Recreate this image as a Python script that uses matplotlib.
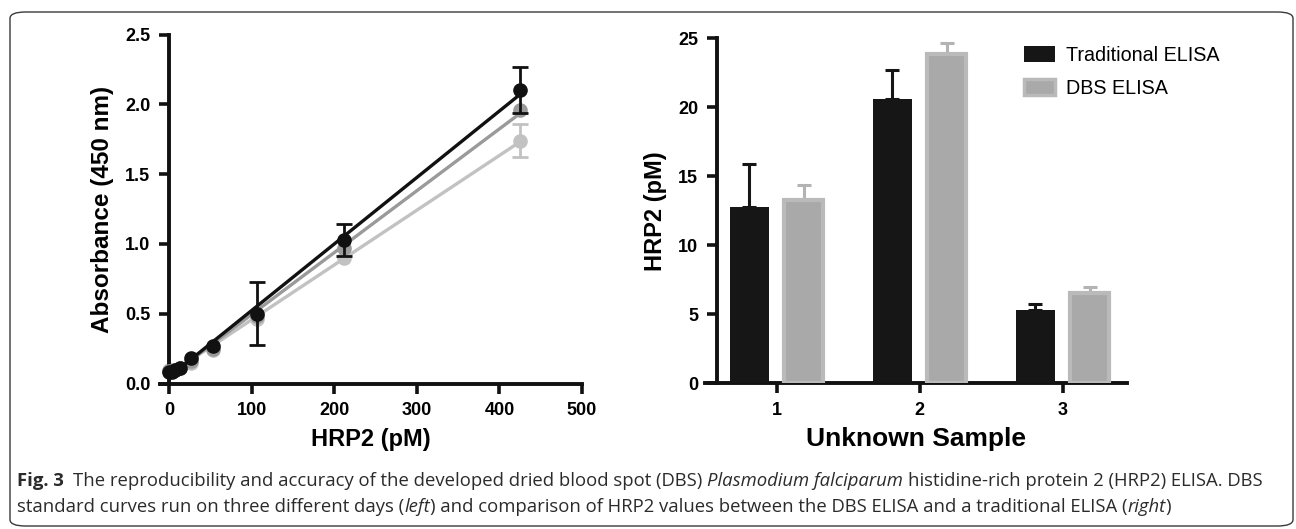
import numpy as np
import matplotlib
matplotlib.use("Agg")
import matplotlib.pyplot as plt
from matplotlib import font_manager
from matplotlib.patches import FancyBboxPatch, Patch
from matplotlib.transforms import IdentityTransform

# ---------------- data ----------------
conc = [0, 3.3, 6.6, 13.3, 26.5, 53, 106, 212, 425]
abs_day1 = [0.08, 0.085, 0.095, 0.11, 0.18, 0.27, 0.50, 1.03, 2.10]      # black
abs_day2 = [0.09, 0.09, 0.10, 0.11, 0.16, 0.25, 0.48, 0.97, 1.96]        # medium gray
abs_day3 = [0.10, 0.10, 0.10, 0.11, 0.15, 0.24, 0.46, 0.90, 1.74]        # light gray
err_day1 = [np.nan, np.nan, np.nan, np.nan, np.nan, np.nan, 0.225, 0.115, 0.165]
err_day2 = [np.nan] * 9
err_day3 = [np.nan, np.nan, np.nan, np.nan, np.nan, np.nan, np.nan, np.nan, 0.12]

samples = ["1", "2", "3"]
trad_vals = [12.8, 20.6, 5.33]
trad_err = [3.1, 2.1, 0.4]
dbs_vals = [13.3, 23.85, 6.56]
dbs_err = [1.1, 0.8, 0.42]

x_ticks_left = [0, 100, 200, 300, 400, 500]
y_ticks_left = [0.0, 0.5, 1.0, 1.5, 2.0, 2.5]
y_ticks_right = [0, 5, 10, 15, 20, 25]

# ---------------- figure ----------------
W, H = 1296, 529
DPI = 100
plt.rcParams['font.family'] = ['Liberation Sans', 'DejaVu Sans']
fig = plt.figure(figsize=(W / DPI, H / DPI), dpi=DPI)

def fx(px):
    return px / W

def fy(py):
    return 1 - py / H

# frame
frame = FancyBboxPatch((fx(10), fy(526)), fx(1293) - fx(10), fy(12) - fy(526),
                       boxstyle="round,pad=0,rounding_size=0.012",
                       transform=fig.transFigure, facecolor='none',
                       edgecolor='#3a3a3a', linewidth=1.0, zorder=-5)
fig.patches.append(frame)

SPW = 2.8
TICKW = 2.6
TICKL = 7.5
TICKFS = 13
LABFS = 17

def style_axes(ax):
    for s in ['top', 'right']:
        ax.spines[s].set_visible(False)
    for s in ['left', 'bottom']:
        ax.spines[s].set_linewidth(SPW)
        ax.spines[s].set_color('#111111')
    ax.tick_params(direction='out', length=TICKL, width=TICKW, color='#111111',
                   labelsize=TICKFS, pad=6)
    for lab in ax.get_xticklabels() + ax.get_yticklabels():
        lab.set_fontweight('bold')
    ax.set_facecolor('none')

# ---------------- left panel ----------------
axL = fig.add_axes([fx(160), fy(383.5), fx(582) - fx(160), fy(34.5) - fy(383.5)])
axL.set_xlim(-11, 500)
axL.set_ylim(0, 2.5)
axL.spines['left'].set_position(('data', 0))

series = [
    (abs_day3, err_day3, '#c2c2c2', 2),
    (abs_day2, err_day2, '#9a9a9a', 3),
    (abs_day1, err_day1, '#111111', 4),
]
xc = np.array(conc)
for vals, errs, col, z in series:
    v = np.array(vals)
    e = np.array(errs)
    k, b = np.polyfit(xc, v, 1)
    xs = np.array([xc.min(), xc.max()])
    axL.plot(xs, k * xs + b, color=col, lw=2.4, zorder=z, solid_capstyle='butt')
    axL.plot(xc, v, 'o', color=col, ms=9.5, zorder=z + 0.2, clip_on=False)
    m = np.isfinite(e)
    if m.any():
        axL.errorbar(xc[m], v[m], yerr=e[m], fmt='none', ecolor=col, elinewidth=2.0,
                     capsize=5.5, capthick=2.0, zorder=z + 0.1)

axL.set_xticks(x_ticks_left)
axL.set_yticks(y_ticks_left)
axL.set_yticklabels([f"{t:.1f}" for t in y_ticks_left])
style_axes(axL)
axL.set_xlabel("HRP2 (pM)", fontsize=LABFS, fontweight='bold', labelpad=6)
axL.set_ylabel("Absorbance (450 nm)", fontsize=17.5, fontweight='bold', labelpad=8)

# ---------------- right panel ----------------
axR = fig.add_axes([fx(705), fy(383.3), fx(1127) - fx(705), fy(38.3) - fy(383.3)])
axR.set_xlim(0.5, 3.45)
axR.set_ylim(0, 25)
axR.spines['left'].set_position(('data', 0.584))

pos = np.arange(1, len(samples) + 1)
bw = 0.27
off = 0.19
axR.bar(pos - off, trad_vals, width=bw, color='#161616', edgecolor='#161616',
        linewidth=0, zorder=3, label='Traditional ELISA')
axR.bar(pos + off, dbs_vals, width=bw, color='#a9a9a9', edgecolor='#bababa',
        linewidth=3, zorder=3, label='DBS ELISA')
axR.errorbar(pos - off, trad_vals, yerr=[np.zeros(3), trad_err], fmt='none',
             ecolor='#161616', elinewidth=2.2, capsize=5, capthick=2.2, zorder=2)
axR.errorbar(pos + off, dbs_vals, yerr=[np.zeros(3), dbs_err], fmt='none',
             ecolor='#b3b3b3', elinewidth=2.2, capsize=5, capthick=2.2, zorder=2)
axR.set_xticks(pos)
axR.set_xticklabels(samples)
axR.set_yticks(y_ticks_right)
style_axes(axR)
axR.set_xlabel("Unknown Sample", fontsize=19, fontweight='bold', labelpad=6)
axR.set_ylabel("HRP2 (pM)", fontsize=LABFS, fontweight='bold', labelpad=8)

handles = [Patch(facecolor='#161616', edgecolor='#161616', linewidth=0),
           Patch(facecolor='#a9a9a9', edgecolor='#bababa', linewidth=2.5)]
leg = fig.legend(handles, ['Traditional ELISA', 'DBS ELISA'],
                 loc='upper left', bbox_to_anchor=(fx(1024), fy(46)),
                 frameon=False, fontsize=14.2, handlelength=1.55, handleheight=0.85,
                 handletextpad=0.6, labelspacing=0.7, borderaxespad=0, borderpad=0)

# ---------------- caption ----------------
fig.canvas.draw()
renderer = fig.canvas.get_renderer()
cap_col = '#2b2b2b'

def pick_family(cands):
    for c in cands:
        try:
            font_manager.findfont(font_manager.FontProperties(family=c),
                                  fallback_to_default=False)
            return c
        except Exception:
            continue
    return 'DejaVu Sans'

CAPFAMILY = [pick_family(['Liberation Sans Narrow', 'Open Sans']), 'DejaVu Sans']

line1 = [("Fig. 3", dict(fontweight='bold')), ("  ", None),
         ("The reproducibility and accuracy of the developed dried blood spot (DBS)", {}),
         (" ", None), ("Plasmodium falciparum", dict(fontstyle='italic')), (" ", None),
         ("histidine-rich protein 2 (HRP2) ELISA. DBS", {})]
line2 = [("standard curves run on three different days (", {}), ("left", dict(fontstyle='italic')),
         (") and comparison of HRP2 values between the DBS ELISA and a traditional ELISA (", {}),
         ("right", dict(fontstyle='italic')), (")", {})]

def measure(txt, fs, style):
    t = fig.text(0, 0, txt, fontsize=fs, family=CAPFAMILY, **style)
    bb = t.get_window_extent(renderer)
    t.remove()
    return bb.width

def space_w(fs):
    return measure("a a", fs, {}) - measure("aa", fs, {})

def line_width(runs, fs):
    w = 0
    for txt, st in runs:
        if st is None:
            w += space_w(fs) * len(txt)
        else:
            w += measure(txt, fs, st)
    return w

def draw_line(runs, x0, ybase, fs):
    x = x0
    for txt, st in runs:
        if st is None:
            x += space_w(fs) * len(txt)
            continue
        t = fig.text(x, ybase, txt, fontsize=fs, family=CAPFAMILY, color=cap_col,
                     transform=IdentityTransform(), va='baseline', ha='left', **st)
        x = t.get_window_extent(renderer).x1

target = 1263 - 17
fs0 = 11.0
fs = fs0 * target / line_width(line1, fs0)
draw_line(line1, 17, H - 486, fs)
draw_line(line2, 17, H - 512, fs)

fig.savefig("out.png", dpi=DPI)
